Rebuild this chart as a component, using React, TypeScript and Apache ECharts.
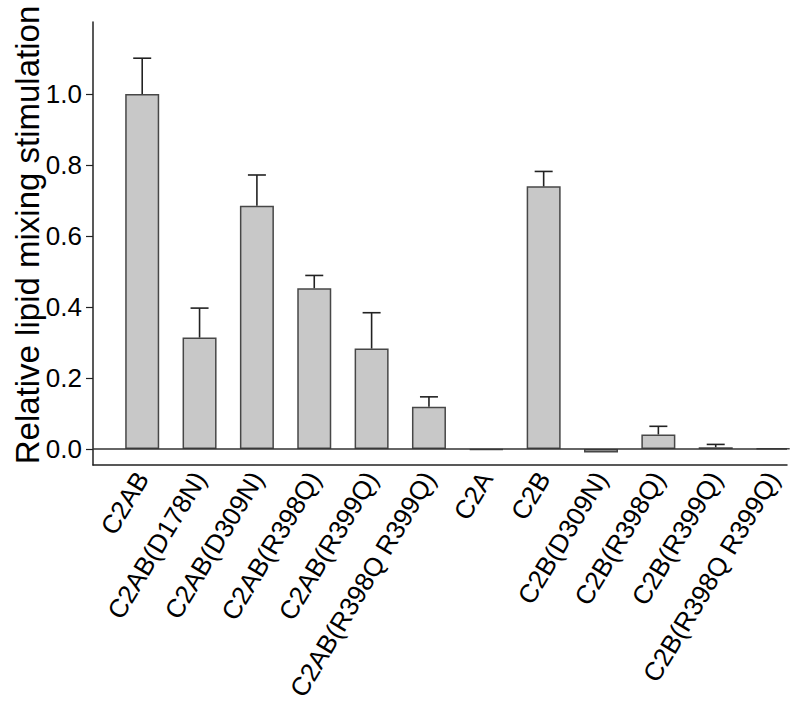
import React, { useEffect, useRef } from "react";
import * as echarts from "echarts";

const categories = [
  "C2AB",
  "C2AB(D178N)",
  "C2AB(D309N)",
  "C2AB(R398Q)",
  "C2AB(R399Q)",
  "C2AB(R398Q R399Q)",
  "C2A",
  "C2B",
  "C2B(D309N)",
  "C2B(R398Q)",
  "C2B(R399Q)",
  "C2B(R398Q R399Q)",
];
const values = [1.0, 0.314, 0.685, 0.453, 0.283, 0.119, -0.002, 0.74, -0.01, 0.041, 0.005, 0.002];
const errorTops: (number | null)[] = [1.101, 0.397, 0.772, 0.489, 0.384, 0.147, null, 0.782, null, 0.064, 0.013, null];
const yTicks = [0, 0.2, 0.4, 0.6, 0.8, 1.0];
const yTitle = "Relative lipid mixing stimulation";

export default function App() {
  const ref = useRef<HTMLDivElement>(null);
  useEffect(() => {
    if (!ref.current) return;
    document.body.style.margin = "0";
    const chart = echarts.init(ref.current, undefined, { renderer: "svg" });
    const font = "'Liberation Sans', Arial, Helvetica, sans-serif";
    const idx = categories.map((_, i) => i);
    chart.setOption({
      animation: false,
      backgroundColor: "#ffffff",
      textStyle: { fontFamily: font },
      grid: { left: 93, right: 13, top: 22, bottom: 243, containLabel: false },
      xAxis: {
        type: "value",
        min: -0.858,
        max: 11.243,
        splitLine: { show: false },
        axisTick: { show: false },
        axisLine: { show: true, onZero: false, lineStyle: { color: "#222", width: 1.5 } },
        axisLabel: {
          customValues: idx,
          formatter: (v: number) => categories[Math.round(v)] ?? "",
          rotate: 59,
          margin: 9,
          fontSize: 26,
          color: "#000",
          fontFamily: font,
        },
      },
      yAxis: {
        type: "value",
        min: -0.045,
        max: 1.203,
        splitLine: { show: false },
        axisLine: { show: true, onZero: false, lineStyle: { color: "#222", width: 1.5 } },
        axisTick: { show: true, customValues: yTicks, length: 7, lineStyle: { color: "#222", width: 1.2 } },
        axisLabel: {
          customValues: yTicks,
          formatter: (v: number) => v.toFixed(1),
          margin: 11,
          fontSize: 26,
          color: "#000",
          fontFamily: font,
        },
      },
      graphic: [
        {
          type: "text",
          x: 27,
          y: 235,
          rotation: Math.PI / 2,
          style: {
            text: yTitle,
            fontSize: 33,
            fontFamily: font,
            fill: "#000",
            align: "center",
            verticalAlign: "middle",
          },
        },
      ],
      series: [
        {
          type: "bar",
          data: values.map((v, i) => [i, v]),
          barWidth: 34,
          itemStyle: { color: "#c8c8c8", borderColor: "#474747", borderWidth: 1.5 },
          markLine: {
            silent: true,
            symbol: "none",
            label: { show: false },
            lineStyle: { color: "#333", width: 1.5, type: "solid" },
            data: [{ yAxis: 0 }],
          },
        },
        {
          type: "custom",
          data: errorTops.map((e, i) => [i, values[i], e == null ? values[i] : e, e == null ? 0 : 1]),
          renderItem: (params: any, api: any) => {
            if (api.value(3) === 0) return null;
            const base = api.coord([api.value(0), api.value(1)]);
            const top = api.coord([api.value(0), api.value(2)]);
            const half = 9;
            const style = { stroke: "#222", lineWidth: 1.6 };
            return {
              type: "group",
              children: [
                { type: "line", shape: { x1: top[0], y1: base[1], x2: top[0], y2: top[1] }, style },
                { type: "line", shape: { x1: top[0] - half, y1: top[1], x2: top[0] + half, y2: top[1] }, style },
              ],
            };
          },
          z: 3,
        },
      ],
    });
    return () => chart.dispose();
  }, []);
  return <div ref={ref} style={{ width: 800, height: 708 }} />;
}
